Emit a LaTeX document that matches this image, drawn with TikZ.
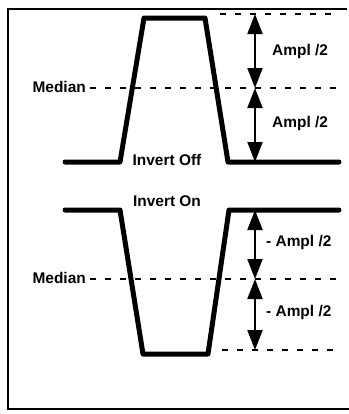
\documentclass[tikz,border=0pt]{standalone}
\usepackage{fontspec}
\setmainfont{Liberation Sans}
\usetikzlibrary{arrows.meta}
\begin{document}
\begin{tikzpicture}[x=1bp,y=-1bp,
  wave/.style={line width=5bp,line join=round,line cap=round},
  dots/.style={line width=2.5bp,dash pattern=on 6bp off 9bp},
  dimarrow/.style={line width=2bp,{Triangle[length=20bp,width=15bp]}-{Triangle[length=20bp,width=15bp]}},
  lbl/.style={font=\bfseries\fontsize{15.5}{17}\selectfont,inner sep=0pt}]
\useasboundingbox (0,0) rectangle (349,414);
% frame
\draw[line width=2.5bp] (347,9) -- (8,9) -- (8,409) -- (349,409);
% upper waveform
\draw[wave] (65,162) -- (120,162) -- (144,18) -- (205,18) -- (228,162) -- (339,162);
\coordinate (t1) at (255,14);
\coordinate (m1) at (255,88);
\coordinate (b1) at (255,162);
\draw[dots] (220,14) -- (340,14);
\draw[dots] (90,88) -- (340,88);
\node[lbl,anchor=east] (med1) at (86,87) {Median};
\draw[dimarrow] (t1) -- (m1);
\draw[dimarrow] (m1) -- (b1);
\node[lbl,anchor=west] (a1) at (272,52) {Ampl /2};
\node[lbl,anchor=west] (a2) at (272,124) {Ampl /2};
\node[lbl] (off) at (167,160) {Invert Off};
% lower waveform
\draw[wave] (65,210) -- (120,210) -- (143,354) -- (208,354) -- (229,210) -- (339,210);
\coordinate (t2) at (255,210);
\coordinate (m2) at (255,279);
\coordinate (b2) at (255,350);
\draw[dots] (90,279) -- (340,279);
\draw[dots] (222,350) -- (340,350);
\node[lbl,anchor=east] (med2) at (86,278) {Median};
\draw[dimarrow] (t2) -- (m2);
\draw[dimarrow] (m2) -- (b2);
\node[lbl,anchor=west] (a3) at (266,243) {- Ampl /2};
\node[lbl,anchor=west] (a4) at (266,313) {- Ampl /2};
\node[lbl] (on) at (167,201) {Invert On};
\end{tikzpicture}
\end{document}
